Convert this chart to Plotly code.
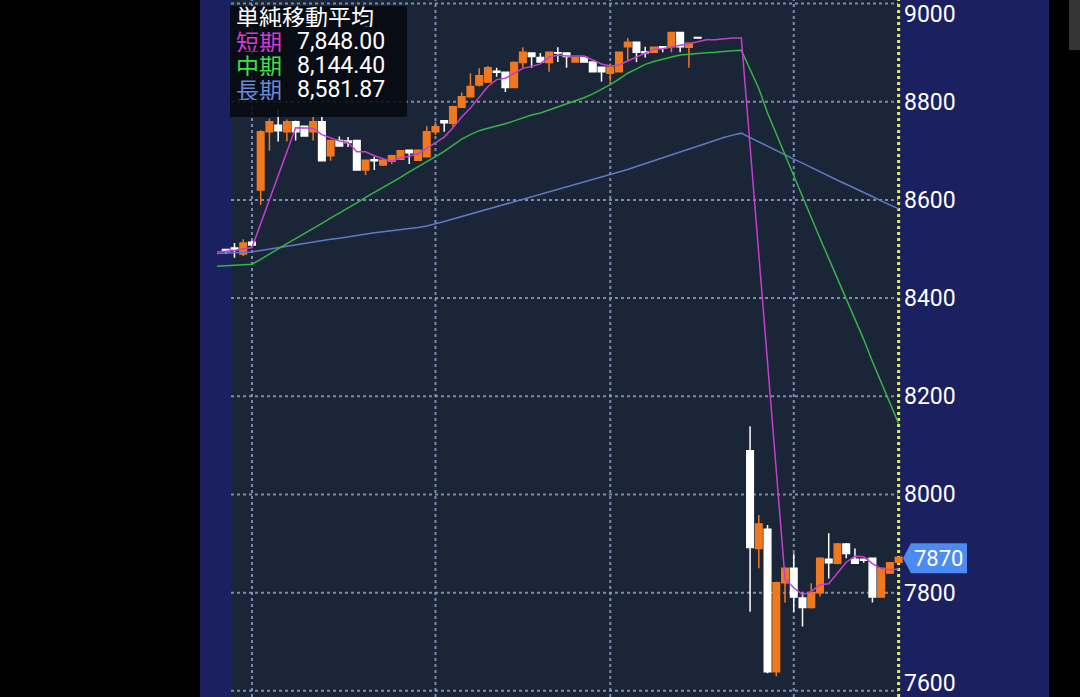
import plotly.graph_objects as go

# ---------------- data ----------------
candle_idx = list(range(0, 55)) + list(range(60, 78))
opens = [8499, 8502, 8490, 8514, 8620, 8739, 8752, 8739, 8759, 8750,
         8739, 8759, 8690, 8721, 8720, 8721, 8661, 8682, 8671, 8679,
         8683, 8701, 8681, 8688, 8739, 8761, 8756, 8789, 8810, 8834,
         8840, 8862, 8860, 8829, 8880, 8899, 8890, 8880, 8900, 8899,
         8881, 8890, 8881, 8870, 8858, 8861, 8912, 8921, 8902, 8901,
         8912, 8912, 8941, 8911, 8931,
         8089, 7890, 7929, 7639, 7820, 7850, 7789, 7770, 7800, 7868,
         7860, 7899, 7868, 7868, 7870, 7791, 7840, 7862]
highs = [8500, 8512, 8520, 8517, 8742, 8766, 8783, 8764, 8761, 8751,
         8769, 8769, 8722, 8729, 8728, 8722, 8682, 8688, 8684, 8692,
         8701, 8702, 8703, 8750, 8759, 8762, 8792, 8819, 8858, 8868,
         8873, 8869, 8861, 8882, 8911, 8900, 8899, 8902, 8911, 8900,
         8891, 8891, 8882, 8871, 8878, 8902, 8930, 8922, 8912, 8912,
         8913, 8942, 8942, 8920, 8931,
         8139, 7958, 7938, 7822, 7852, 7880, 7799, 7819, 7872, 7921,
         7901, 7901, 7890, 7869, 7871, 7851, 7862, 7873]
lows = [8490, 8482, 8486, 8506, 8590, 8700, 8719, 8719, 8721, 8729,
        8721, 8680, 8680, 8709, 8708, 8660, 8651, 8661, 8669, 8673,
        8682, 8673, 8680, 8687, 8732, 8739, 8749, 8788, 8809, 8831,
        8838, 8851, 8820, 8828, 8869, 8869, 8880, 8861, 8881, 8869,
        8880, 8880, 8860, 8841, 8841, 8860, 8881, 8881, 8890, 8900,
        8901, 8901, 8901, 8869, 8929,
        7761, 7850, 7636, 7630, 7780, 7761, 7731, 7768, 7792, 7829,
        7858, 7870, 7859, 7861, 7780, 7790, 7838, 7860]
closes = [8496, 8500, 8512, 8508, 8739, 8759, 8741, 8759, 8739, 8730,
          8759, 8680, 8721, 8710, 8717, 8661, 8681, 8680, 8681, 8690,
          8700, 8696, 8701, 8739, 8749, 8757, 8790, 8810, 8831, 8853,
          8869, 8860, 8829, 8880, 8901, 8892, 8881, 8901, 8899, 8892,
          8890, 8881, 8861, 8861, 8870, 8901, 8921, 8901, 8900, 8911,
          8909, 8941, 8912, 8919, 8930,
          7892, 7940, 7639, 7820, 7850, 7791, 7770, 7800, 7870, 7861,
          7899, 7880, 7860, 7866, 7791, 7850, 7861, 7872]

ma_idx = list(range(-1, 78))
ma_short = [8494, 8495, 8497, 8500, 8503, None, None, None, None, 8747,
            8746, 8746, 8733, 8726, 8720, 8717, 8698, 8698, 8690, 8684,
            8679, 8686, 8689, 8694, 8705, 8717, 8728, 8747, 8769, 8787,
            8808, 8831, 8845, 8848, 8858, 8868, 8872, 8877, 8891, 8895,
            8893, 8893, 8893, 8885, 8877, 8873, 8875, 8883, 8891, 8899,
            8907, 8908, 8912, 8915, 8918, 8922, 8926, 8926, 8928, 8930,
            8930, None, None, None, None, 7828, 7810, 7796, 7802, 7816,
            7818, 7840, 7862, 7874, 7873, 7859, 7849, 7846, 7848]
ma_mid = [8465, 8466, 8467, 8468, 8469, 8479, 8490, 8500, 8511, 8521,
          8531, 8542, 8552, 8563, 8573, 8584, 8594, 8605, 8615, 8625,
          8636, 8646, 8657, 8667, 8678, 8688, 8699, 8712, 8724, 8733,
          8741, 8746, 8750, 8755, 8761, 8767, 8773, 8777, 8783, 8789,
          8795, 8801, 8808, 8816, 8825, 8835, 8846, 8858, 8867, 8876,
          8882, 8887, 8891, 8895, 8897, 8899, 8900, 8901, 8903, 8904,
          8905, 8865, 8827, 8777, 8734, 8693, 8651, 8607, 8563, 8522,
          8481, 8440, 8399, 8358, 8316, 8271, 8230, 8187, 8144.4]
ma_long = [8491, 8492, 8492, 8493, 8494, 8497, 8500, 8503, 8506, 8509,
           8512, 8515, 8517, 8520, 8522, 8525, 8528, 8530, 8533, 8535,
           8537, 8540, 8542, 8544, 8547, 8551, 8556, 8561, 8566, 8571,
           8576, 8581, 8586, 8591, 8596, 8601, 8606, 8611, 8616, 8621,
           8626, 8631, 8636, 8641, 8646, 8651, 8656, 8662, 8668, 8674,
           8680, 8686, 8692, 8698, 8704, 8710, 8716, 8722, 8727, 8732,
           8736, 8727, 8718, 8709, 8700, 8692, 8683, 8675, 8666, 8657,
           8649, 8640, 8632, 8624, 8615, 8607, 8598, 8590, 8581.87]

y_ticks = [7600, 7800, 8000, 8200, 8400, 8600, 8800, 9000]
y_tick_labels = ["7600", "7800", "8000", "8200", "8400", "8600", "8800", "9000"]
x_grid_idx = [3, 24, 44, 65]
last_index = 77
last_price = 7870
legend_title = "単純移動平均"
legend_names = ["短期", "中期", "長期"]
legend_values = [7848.00, 8144.40, 8581.87]

# ---------------- styles ----------------
W, H = 1080, 697
PL, PR = 217, 903          # plot area pixels
PW = PR - PL
NAVY = "#1a2060"
DARK = "#1b2538"
ORANGE = "#f0781e"
WHITE = "#ffffff"
C_SHORT = "#c33fd0"
C_MID = "#34b544"
C_LONG = "#5b7cc4"
LEG_COLORS = ["#d63ad6", "#3ee04a", "#6a8ad8"]
GRID = "rgba(150,165,205,0.8)"
FONT_NUM = "Roboto, 'Noto Sans CJK JP', sans-serif"
FONT_JP = "'Noto Sans CJK JP', sans-serif"


def px_x(p):
    return (p - PL) / PW


def px_y(p):
    return 1 - p / H


fig = go.Figure()

fig.add_trace(go.Scatter(x=ma_idx, y=ma_long, mode="lines", connectgaps=True,
                         line=dict(color=C_LONG, width=1.5), hoverinfo="skip"))
fig.add_trace(go.Scatter(x=ma_idx, y=ma_mid, mode="lines", connectgaps=True,
                         line=dict(color=C_MID, width=1.5), hoverinfo="skip"))
fig.add_trace(go.Scatter(x=ma_idx, y=ma_short, mode="lines", connectgaps=True,
                         line=dict(color=C_SHORT, width=1.5), hoverinfo="skip"))

fig.add_trace(go.Candlestick(
    x=candle_idx, open=opens, high=highs, low=lows, close=closes,
    increasing=dict(line=dict(color=ORANGE, width=1.5), fillcolor=ORANGE),
    decreasing=dict(line=dict(color=WHITE, width=1.5), fillcolor=WHITE),
    whiskerwidth=0,
))

shapes = []
# navy panel and dark chart background
shapes.append(dict(type="rect", xref="paper", yref="paper", x0=px_x(200), x1=px_x(1049),
                   y0=0, y1=1, fillcolor=NAVY, line_width=0, layer="below"))
shapes.append(dict(type="rect", xref="paper", yref="paper", x0=px_x(231), x1=px_x(898),
                   y0=0, y1=1, fillcolor=DARK, line_width=0, layer="below"))
# top-right grey block
shapes.append(dict(type="rect", xref="paper", yref="paper", x0=px_x(1069), x1=px_x(1081),
                   y0=px_y(50), y1=1.01, fillcolor="#353535", line_width=0, layer="below"))
# horizontal grid
for v in y_ticks:
    shapes.append(dict(type="line", xref="paper", yref="y", x0=px_x(231), x1=px_x(898),
                       y0=v, y1=v, line=dict(color=GRID, width=2, dash="dot"), layer="below"))
# vertical grid
for i in x_grid_idx:
    shapes.append(dict(type="line", xref="x", yref="paper", x0=i, x1=i, y0=0, y1=1,
                       line=dict(color=GRID, width=2, dash="dot"), layer="below"))
# current position line
shapes.append(dict(type="line", xref="x", yref="paper", x0=last_index, x1=last_index, y0=0, y1=1,
                   line=dict(color="#e4ea5e", width=3, dash="dot"), layer="below"))
# legend box
shapes.append(dict(type="rect", xref="paper", yref="paper", x0=px_x(230), x1=px_x(407),
                   y0=px_y(117), y1=px_y(6), fillcolor="rgba(6,9,16,0.88)", line_width=0,
                   layer="above"))
# price tag
shapes.append(dict(type="path", xref="paper", yref="y", xsizemode="pixel", ysizemode="pixel",
                   xanchor=1, yanchor=last_price,
                   path="M 0,0 L 8,15 L 64,15 L 64,-15 L 8,-15 Z",
                   fillcolor="#4d8af2", line_width=0, layer="above"))

annotations = []
for v, lab in zip(y_ticks, y_tick_labels):
    shift = 0
    if v == max(y_ticks):
        shift = -10.5
    elif v == min(y_ticks):
        shift = 8
    annotations.append(dict(xref="paper", yref="y", x=1, y=v, text=lab, showarrow=False,
                            xanchor="left", yanchor="middle", xshift=-1, yshift=shift,
                            height=24,
                            font=dict(family=FONT_NUM, size=23, color=WHITE)))
annotations.append(dict(xref="paper", yref="y", x=1, y=last_price, text=str(last_price),
                        showarrow=False, xanchor="left", yanchor="middle", xshift=9,
                        height=24,
                        font=dict(family=FONT_NUM, size=22, color=WHITE)))
annotations.append(dict(xref="paper", yref="paper", x=px_x(234), y=px_y(16), text=legend_title,
                        showarrow=False, xanchor="left", yanchor="middle", height=22,
                        font=dict(family=FONT_JP, size=23, color=WHITE)))
row_y = [41, 65, 89]
for name, val, col, ry in zip(legend_names, legend_values, LEG_COLORS, row_y):
    annotations.append(dict(xref="paper", yref="paper", x=px_x(234), y=px_y(ry), text=name,
                            showarrow=False, xanchor="left", yanchor="middle", height=22,
                            font=dict(family=FONT_JP, size=23, color=col)))
    annotations.append(dict(xref="paper", yref="paper", x=px_x(387), y=px_y(ry),
                            text=f"{val:,.2f}", showarrow=False, xanchor="right",
                            yanchor="middle", height=22,
                            font=dict(family=FONT_NUM, size=23, color=WHITE)))

fig.update_layout(
    width=W, height=H, autosize=False,
    margin=dict(l=PL, r=W - PR, t=0, b=0, pad=0),
    paper_bgcolor="#000000", plot_bgcolor="rgba(0,0,0,0)",
    showlegend=False,
    boxgap=0.25, boxgroupgap=0,
    shapes=shapes, annotations=annotations,
    xaxis=dict(range=[-1, 77.5], showgrid=False, zeroline=False, showticklabels=False,
               rangeslider=dict(visible=False), fixedrange=True),
    yaxis=dict(range=[7587.5, 9007.2], showgrid=False, zeroline=False,
               showticklabels=False, fixedrange=True),
)

fig.write_html("out.html",
               config={"displayModeBar": False, "staticPlot": True},
               post_script="document.body.style.margin='0px';"
                           "document.body.style.background='#000000';")
